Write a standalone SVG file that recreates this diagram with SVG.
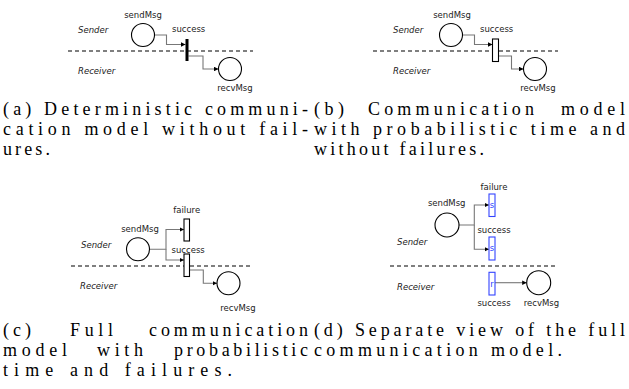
<svg xmlns="http://www.w3.org/2000/svg" width="629" height="389" viewBox="0 0 629 389">
  <style>
    .bg { fill: #ffffff; }
    .lbl { font-family: "DejaVu Sans", Verdana, sans-serif; font-size: 8.5px; fill: #222; }
    .mid { text-anchor: middle; }
    .role { font-family: "DejaVu Sans", Verdana, sans-serif; font-size: 8.5px; font-style: italic; fill: #222; }
    .place { fill: #ffffff; stroke: #000; stroke-width: 1.1; }
    .arc { fill: none; stroke: #777; stroke-width: 1.1; marker-end: url(#arrow); }
    .lane { stroke: #000; stroke-width: 1.1; stroke-dasharray: 4 3; }
    .imm { fill: #000; }
    .timed { fill: #ffffff; stroke: #000; stroke-width: 1.1; }
    .split { fill: #ffffff; stroke: #3344ff; stroke-width: 1.1; }
    .tag { font-family: "DejaVu Sans", Verdana, sans-serif; font-size: 8.5px; fill: #3344ff; text-anchor: middle; }
    .cap { font-family: "Liberation Serif", "Times New Roman", serif; font-size: 18px; fill: #000; }
  </style>
  <defs>
    <marker id="arrow" viewBox="0 0 6 6" refX="6" refY="3" markerWidth="4.5" markerHeight="4.5" markerUnits="userSpaceOnUse" orient="auto">
      <path d="M0,0 L6,3 L0,6 Z" fill="#000"/>
    </marker>
  </defs>
  <rect class="bg" x="0" y="0" width="629" height="389"/>

  <!-- (a) deterministic model -->
  <g id="a-lanes">
    <line class="lane" x1="68" y1="51" x2="253" y2="51"/>
    <text class="role" x="78" y="33">Sender</text>
    <text class="role" x="78" y="74">Receiver</text>
  </g>
  <g id="a-connectors">
    <path class="arc" d="M154.5,35 H166.5 V44.5 H185.5"/>
    <path class="arc" d="M188.5,56 H203 V69 H218.5"/>
  </g>
  <g id="a-sendMsg">
    <circle class="place" cx="143" cy="35" r="11.5"/>
    <text class="lbl mid" x="143" y="18">sendMsg</text>
  </g>
  <g id="a-success">
    <rect class="imm" x="185.5" y="39" width="3" height="22"/>
    <text class="lbl" x="172" y="32">success</text>
  </g>
  <g id="a-recvMsg">
    <circle class="place" cx="230" cy="69" r="11.5"/>
    <text class="lbl mid" x="235" y="91">recvMsg</text>
  </g>

  <!-- (b) probabilistic time, no failures -->
  <g id="b-lanes">
    <line class="lane" x1="373" y1="51" x2="558" y2="51"/>
    <text class="role" x="393" y="33">Sender</text>
    <text class="role" x="393" y="74">Receiver</text>
  </g>
  <g id="b-connectors">
    <path class="arc" d="M462.5,35 H474.5 V44.5 H492.5"/>
    <path class="arc" d="M498.5,56 H511.5 V69 H523.5"/>
  </g>
  <g id="b-sendMsg">
    <circle class="place" cx="451" cy="35" r="11.5"/>
    <text class="lbl mid" x="452" y="18">sendMsg</text>
  </g>
  <g id="b-success">
    <rect class="timed" x="492.5" y="39" width="6" height="22.5"/>
    <text class="lbl" x="480" y="32">success</text>
  </g>
  <g id="b-recvMsg">
    <circle class="place" cx="535" cy="69" r="11.5"/>
    <text class="lbl mid" x="538" y="91">recvMsg</text>
  </g>

  <!-- (c) full model -->
  <g id="c-lanes">
    <line class="lane" x1="71" y1="266" x2="253" y2="266"/>
    <text class="role" x="81" y="248">Sender</text>
    <text class="role" x="80" y="289">Receiver</text>
  </g>
  <g id="c-connectors">
    <path class="arc" d="M149.5,249.3 H166 V229.5 H184"/>
    <path class="arc" d="M166,249.3 V260 H184"/>
    <path class="arc" d="M189.5,270 H203.3 V283.3 H217"/>
  </g>
  <g id="c-sendMsg">
    <circle class="place" cx="138" cy="249.3" r="11.5"/>
    <text class="lbl mid" x="140" y="231.5">sendMsg</text>
  </g>
  <g id="c-failure">
    <rect class="timed" x="184" y="219" width="5.5" height="22"/>
    <text class="lbl mid" x="186.7" y="212.5">failure</text>
  </g>
  <g id="c-success">
    <rect class="timed" x="184" y="254" width="5.5" height="22.5"/>
    <text class="lbl" x="171.5" y="253">success</text>
  </g>
  <g id="c-recvMsg">
    <circle class="place" cx="228.5" cy="283.3" r="11.5"/>
    <text class="lbl mid" x="238" y="311">recvMsg</text>
  </g>

  <!-- (d) separate view -->
  <g id="d-lanes">
    <line class="lane" x1="390" y1="266" x2="557" y2="266"/>
    <text class="role" x="397" y="244.5">Sender</text>
    <text class="role" x="397" y="289.5">Receiver</text>
  </g>
  <g id="d-connectors">
    <path class="arc" d="M459,225 H474.3 V205 H489"/>
    <path class="arc" d="M474.3,225 V249.3 H489"/>
    <path class="arc" d="M495,282.7 H526.7"/>
  </g>
  <g id="d-sendMsg">
    <circle class="place" cx="447" cy="225" r="12"/>
    <text class="lbl mid" x="446.7" y="205.5">sendMsg</text>
  </g>
  <g id="d-failure-s">
    <rect class="split" x="489" y="194" width="6" height="22.5"/>
    <text class="tag" x="492" y="208">s</text>
    <text class="lbl mid" x="494" y="189.5">failure</text>
  </g>
  <g id="d-success-s">
    <rect class="split" x="489" y="237" width="6" height="23"/>
    <text class="tag" x="492" y="251">s</text>
    <text class="lbl mid" x="494" y="233">success</text>
  </g>
  <g id="d-success-r">
    <rect class="split" x="489" y="272.3" width="6" height="22.7"/>
    <text class="tag" x="492" y="286.5">r</text>
    <text class="lbl mid" x="494" y="305.5">success</text>
  </g>
  <g id="d-recvMsg">
    <circle class="place" cx="538.7" cy="282.7" r="12"/>
    <text class="lbl mid" x="541.5" y="305.5">recvMsg</text>
  </g>

  <!-- sub-figure captions (justified, word spacing widened where needed) -->
  <g id="captions">
    <text class="cap" x="3" y="115" textLength="305" lengthAdjust="spacing">(a) Deterministic communi-</text>
    <text class="cap" x="3" y="135" textLength="305" lengthAdjust="spacing">cation model without fail-</text>
    <text class="cap" x="3" y="155" textLength="47" lengthAdjust="spacing">ures.</text>

    <text class="cap" y="115"><tspan x="314" textLength="30" lengthAdjust="spacing">(b)</tspan><tspan x="368" textLength="166" lengthAdjust="spacing">Communication</tspan><tspan x="561" textLength="64" lengthAdjust="spacing">model</tspan></text>
    <text class="cap" x="314" y="135" textLength="311" lengthAdjust="spacing">with probabilistic time and</text>
    <text class="cap" x="314" y="155" textLength="170" lengthAdjust="spacing">without failures.</text>

    <text class="cap" y="336"><tspan x="3" textLength="28" lengthAdjust="spacing">(c)</tspan><tspan x="70" textLength="43" lengthAdjust="spacing">Full</tspan><tspan x="149" textLength="159" lengthAdjust="spacing">communication</tspan></text>
    <text class="cap" y="356"><tspan x="3" textLength="64" lengthAdjust="spacing">model</tspan><tspan x="97" textLength="46" lengthAdjust="spacing">with</tspan><tspan x="174" textLength="134" lengthAdjust="spacing">probabilistic</tspan></text>
    <text class="cap" x="3" y="376" textLength="229" lengthAdjust="spacing">time and failures.</text>

    <text class="cap" x="314" y="336" textLength="311" lengthAdjust="spacing">(d) Separate view of the full</text>
    <text class="cap" x="314" y="356" textLength="248" lengthAdjust="spacing">communication model.</text>
  </g>
</svg>
